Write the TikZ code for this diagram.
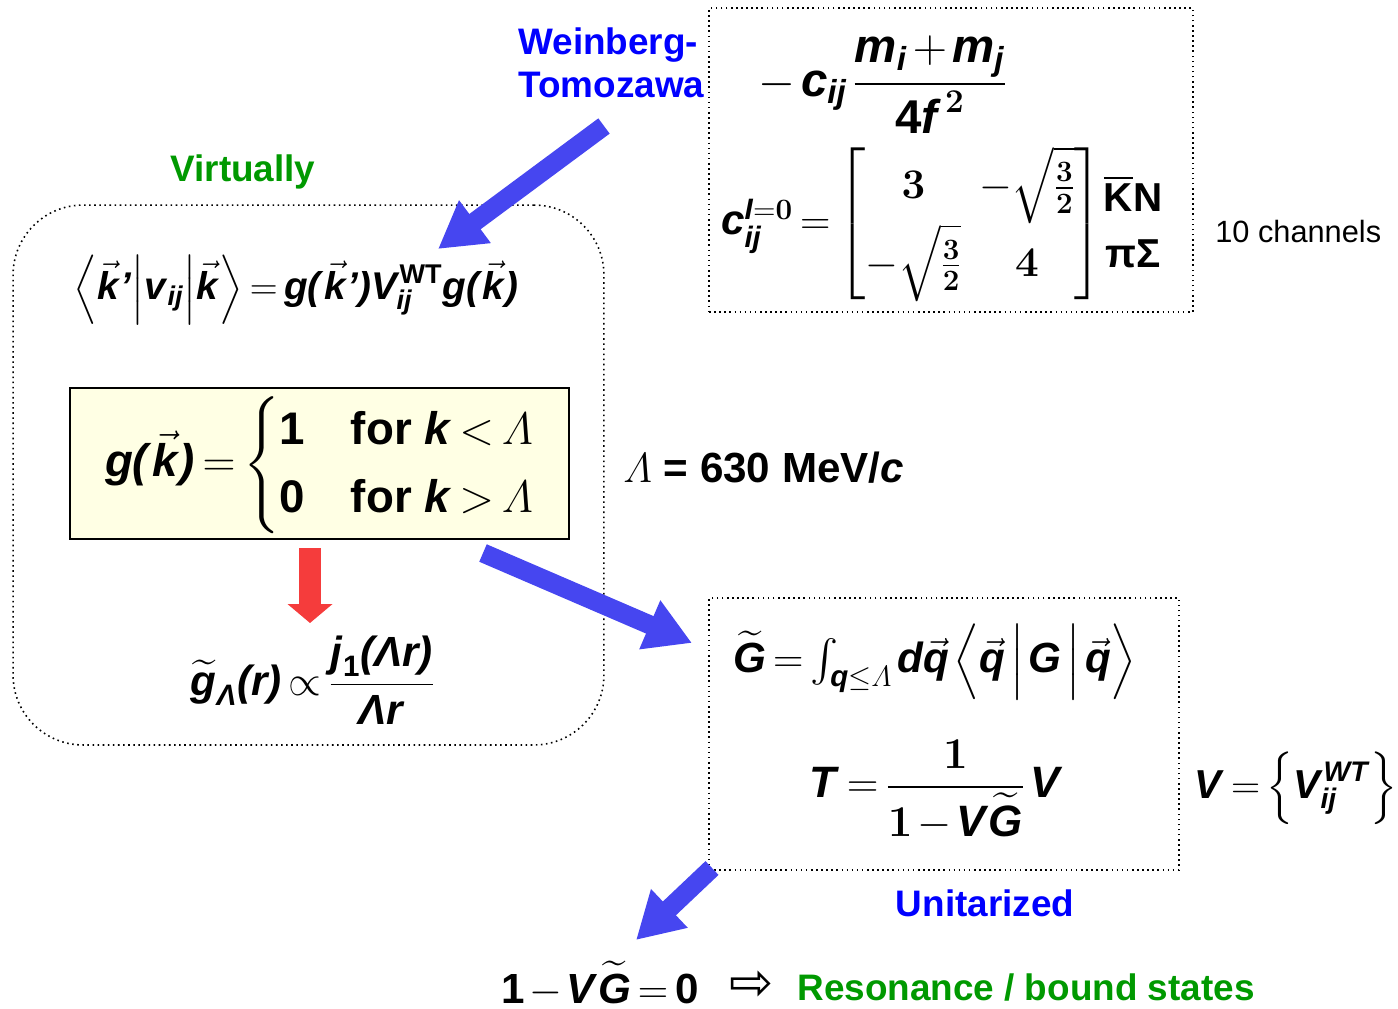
\RequirePackage{fix-cm}
\documentclass[tikz,border=0pt]{standalone}
\usepackage{amsmath,amssymb}
\usepackage[no-math]{fontspec}
\setmainfont{Liberation Sans}
\newfontfamily\symfont{DejaVu Sans}
\usetikzlibrary{arrows.meta,positioning}
\definecolor{wtblue}{RGB}{0,0,255}
\definecolor{vgreen}{RGB}{0,153,0}
\definecolor{pale}{RGB}{255,255,228}
\definecolor{arrblue}{RGB}{70,70,240}
\definecolor{arrred}{RGB}{245,60,60}
\newcommand{\bi}[1]{\textbf{\textit{#1}}}
\newcommand{\tightmath}{\thickmuskip=3mu\medmuskip=2mu\thinmuskip=2mu}
\tikzset{
  lbl/.style={font=\bfseries\fontsize{21}{24.5}\selectfont, inner sep=0pt},
  eqn/.style={font=\fontsize{24}{29}\selectfont\tightmath, inner sep=0pt},
  dbox/.style={draw, dotted, line width=0.9pt, inner sep=0pt},
  ybox/.style={draw, line width=1.2pt, fill=pale, inner sep=0pt},
  barr/.style={line width=0.38cm, draw=arrblue, -{Triangle[width=1cm, length=0.92cm]}},
  rarr/.style={line width=0.44cm, draw=arrred, -{Triangle[width=0.88cm, length=0.38cm]}},
}

\begin{document}
\begin{tikzpicture}[x=0.02cm, y=-0.02cm]
\useasboundingbox (0,0) rectangle (1398,1008);

% boxes
\node[dbox, rounded corners=1.4cm, minimum width=11.82cm, minimum height=10.8cm] (virt) at (308.5,475) {};
\node[dbox, minimum width=9.68cm, minimum height=6.08cm] (wtbox) at (951,160) {};
\node[dbox, minimum width=9.4cm, minimum height=5.44cm] (unibox) at (944,734) {};
\node[ybox, minimum width=9.98cm, minimum height=3.02cm] (cut) at (319.5,463.5) {};

% labels
\node[lbl, text=wtblue, align=left, anchor=west] (wtlbl) at (518,63) {Weinberg-\\Tomozawa};
\node[lbl, text=vgreen] (virtlbl) at (243,172) {Virtually};
\node[lbl, text=wtblue] (unilbl) at (985,903) {Unitarized};
\node[lbl, text=vgreen, anchor=west] (reslbl) at (797,987) {Resonance / bound states};
\node[inner sep=0pt, anchor=west, font=\fontsize{17.5}{21}\selectfont] (chan) at (1215,232) {10 channels};
\node[inner sep=0pt, anchor=west, font=\bfseries\fontsize{24}{29}\selectfont] (lam) at (623,468)
  {$\varLambda$ = 630 MeV/\textit{c}};

% formulas
\node[eqn, font=\fontsize{27}{32}\selectfont\tightmath] (wtf) at (883,85)
  {$-\,\bi{c}_{\bi{ij}}\,\dfrac{\bi{m}_{\bi{i}}+\bi{m}_{\bi{j}}}{\textbf{4}\bi{f}^{\,\mathbf{2}}}$};
\node[eqn] (cmat) at (912,224)
  {$\bi{c}_{\bi{ij}}^{\bi{I}=\mathbf{0}} = \renewcommand{\arraystretch}{1.3}\begin{bmatrix} \mathbf{3} & -\sqrt{\tfrac{\mathbf{3}}{\mathbf{2}}} \\ -\sqrt{\tfrac{\mathbf{3}}{\mathbf{2}}} & \mathbf{4}\end{bmatrix}$};
\node[eqn, font=\bfseries\fontsize{23}{32}\selectfont, align=center] (chl) at (1133,222)
  {$\overline{\mbox{K}}$N\\πΣ};
\node[eqn, font=\fontsize{22}{27}\selectfont\tightmath] (vij) at (296,290)
  {$\Bigl\langle \vec{\bi{k}}\bi{'}\Big|\bi{v}_{\bi{ij}}\Big|\vec{\bi{k}}\Bigr\rangle = \bi{g(}\vec{\bi{k}}\bi{')}\bi{V}_{\!\bi{ij}}^{\textbf{WT}}\bi{g(}\vec{\bi{k}}\bi{)}$};
\node[eqn, font=\fontsize{26}{32}\selectfont\tightmath] (gk) at (320,465)
  {$\bi{g(}\vec{\bi{k}}\bi{)} = \begin{cases}\textbf{1} & \textbf{for }\bi{k} < \varLambda\\ \textbf{0} & \textbf{for }\bi{k} > \varLambda\end{cases}$};
\node[eqn] (gt) at (313,680)
  {$\widetilde{\bi{g}}_{\bi{Λ}}\bi{(r)}\propto\dfrac{\bi{j}_{\textbf{1}}\bi{(Λr)}}{\bi{Λr}}$};
\node[eqn] (Gt) at (935,662)
  {$\widetilde{\bi{G}} = \int_{\bi{q}\le\varLambda}\bi{d}\vec{\bi{q}}\,\Bigl\langle\vec{\bi{q}}\,\Big|\,\bi{G}\,\Big|\,\vec{\bi{q}}\Bigr\rangle$};
\node[eqn, font=\fontsize{25}{30}\selectfont\tightmath] (Tf) at (936,790)
  {$\bi{T} = \dfrac{\mathbf{1}}{\mathbf{1}-\bi{V}\widetilde{\bi{G}}}\,\bi{V}$};
\node[eqn, font=\fontsize{23}{28}\selectfont\tightmath] (Vf) at (1296,788)
  {$\bi{V} = \Bigl\{\bi{V}_{\!\bi{ij}}^{\bi{WT}}\Bigr\}$};
\node[eqn] (pole) at (600,984)
  {$\textbf{1}-\bi{V}\widetilde{\bi{G}} = \textbf{0}$};
\node[inner sep=0pt, font=\symfont\fontsize{30}{34}\selectfont] (imp) at (752,986) {⇨};

% arrows
\coordinate (a1s) at (604,126);
\coordinate (a1e) at (438,249);
\coordinate (a2s) at (483,553);
\coordinate (a2e) at (692,643);
\coordinate (a3s) at (712,868);
\coordinate (a3e) at (636,940);
\coordinate (rs) at (310,548);
\coordinate (re) at (310,623);

\draw[barr] (a1s) -- (a1e);
\draw[barr] (a2s) -- (a2e);
\draw[barr] (a3s) -- (a3e);
\draw[rarr] (rs) -- (re);

\end{tikzpicture}
\end{document}
